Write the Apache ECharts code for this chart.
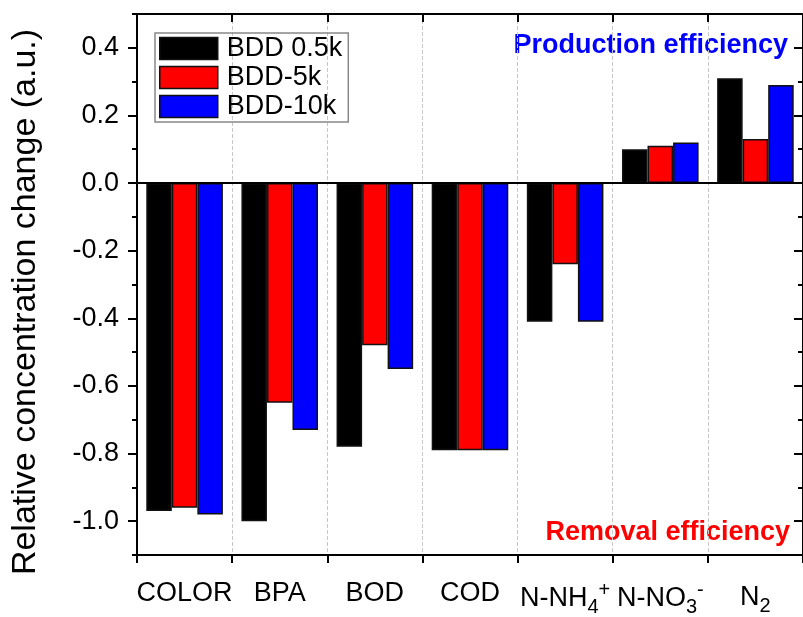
<!DOCTYPE html>
<html><head><meta charset="utf-8">
<script src="https://cdn.jsdelivr.net/npm/echarts@6/dist/echarts.min.js"></script>
<style>html,body{margin:0;padding:0;background:#fff}#c{width:803px;height:617px}</style>
</head><body><div id="c"></div>
<script>
var categories = ['COLOR','BPA','BOD','COD','N-NH4+','N-NO3-','N2'];
var seriesNames = ['BDD 0.5k','BDD-5k','BDD-10k'];
var bdd05k = [-0.97,-1.00,-0.78,-0.79,-0.41,0.10,0.31];
var bdd5k  = [-0.96,-0.65,-0.48,-0.79,-0.24,0.11,0.13];
var bdd10k = [-0.98,-0.73,-0.55,-0.79,-0.41,0.12,0.29];
var majorTicks = [-1.0,-0.8,-0.6,-0.4,-0.2,0.0,0.2,0.4];
var minorTicks = [-1.1,-0.9,-0.7,-0.5,-0.3,-0.1,0.1,0.3,0.5];
var colors = ['#000000','#ff0000','#0000ff'];
var FF = "'Liberation Sans', Arial, sans-serif";

var labelMap = {
  'COLOR':'{n|COLOR}','BPA':'{n|BPA}','BOD':'{n|BOD}','COD':'{n|COD}',
  'N-NH4+':'{n|N-NH}{sub|4}{sup|+}',
  'N-NO3-':'{n|N-NO}{sub|3}{sup|-}',
  'N2':'{n|N}{sub|2}'
};

var chart = echarts.init(document.getElementById('c'), null, {renderer:'canvas'});
function yAx(pos, ticks, len, inside, labels){
  return {
    type:'value', position:pos, min:-1.1, max:0.5,
    axisLine:{show:true, onZero:false, lineStyle:{color:'#000', width:2}},
    axisTick:{show:true, inside:inside, length:len, customValues:ticks, lineStyle:{color:'#000', width:2}},
    axisLabel:{show:labels, customValues:ticks, margin:18, fontSize:27, fontFamily:FF, color:'#000',
      formatter:function(v){return v.toFixed(1);}},
    splitLine:{show:false}
  };
}
var series = [bdd05k,bdd5k,bdd10k].map(function(d,i){
  var s = {
    name:seriesNames[i], type:'bar', data:d, barGap:'0%', barCategoryGap:'19.5%',
    itemStyle:{color:colors[i], borderColor:'#111', borderWidth:1.5},
    xAxisIndex:0, yAxisIndex:0
  };
  if(i===0){
    s.markLine = {silent:true, symbol:'none', label:{show:false},
      lineStyle:{color:'#000', type:'solid', width:2}, data:[{yAxis:0}]};
  }
  return s;
});
chart.setOption({
  animation:false,
  grid:{left:137, top:14, width:670, height:541, containLabel:false},
  legend:{
    orient:'vertical', left:155, top:33, itemWidth:58, itemHeight:22, itemGap:2,
    icon:'rect',
    padding:[2,6,2,4], borderColor:'#888', borderWidth:1.5,
    itemStyle:{borderColor:'#111', borderWidth:1.5},
    textStyle:{fontSize:27, fontFamily:FF, color:'#000', padding:[0,0,0,4]},
    data:seriesNames
  },
  xAxis:[{
    type:'category', data:categories, position:'bottom',
    axisLine:{show:true, onZero:false, lineStyle:{color:'#000', width:2}},
    axisTick:{show:true, length:8, lineStyle:{color:'#000', width:2}},
    axisLabel:{interval:0, margin:25, color:'#000',
      formatter:function(v){return labelMap[v];},
      rich:{
        n:{fontSize:27, fontFamily:FF, color:'#000'},
        sub:{fontSize:20, fontFamily:FF, color:'#000', padding:[16,0,0,0]},
        sup:{fontSize:20, fontFamily:FF, color:'#000', padding:[0,0,18,0]}
      }},
    splitLine:{show:true, lineStyle:{color:'#c8c8c8', type:'dashed', width:1}}
  },{
    type:'category', data:categories, position:'top',
    axisLine:{show:true, onZero:false, lineStyle:{color:'#000', width:2}},
    axisTick:{show:true, inside:true, length:8, lineStyle:{color:'#000', width:2}},
    axisLabel:{show:false}, splitLine:{show:false}
  }],
  yAxis:[
    yAx('left', majorTicks, 9, false, true),
    yAx('left', minorTicks, 5, false, false),
    yAx('right', majorTicks, 9, true, false),
    yAx('right', minorTicks, 5, true, false)
  ],
  series:series,
  graphic:[
    {type:'text', x:788, y:46, style:{text:'Production efficiency', fill:'#0000ff',
      font:'bold 27px '+FF, textAlign:'right', textVerticalAlign:'middle'}},
    {type:'text', x:790, y:533, style:{text:'Removal efficiency', fill:'#ff0000',
      font:'bold 27px '+FF, textAlign:'right', textVerticalAlign:'middle'}},
    {type:'text', x:26, y:302, rotation:Math.PI/2, style:{text:'Relative concentration change (a.u.)',
      fill:'#000', font:'34px '+FF, textAlign:'center', textVerticalAlign:'middle'}}
  ]
});
</script></body></html>
